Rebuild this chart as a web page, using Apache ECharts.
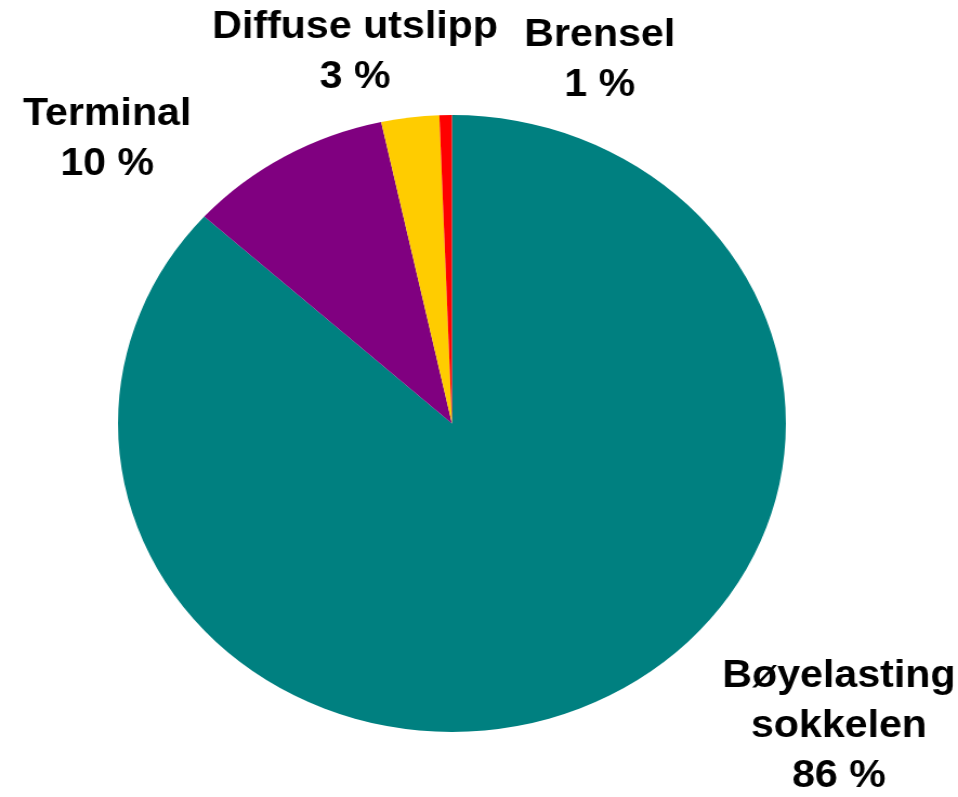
<!DOCTYPE html>
<html>
<head>
<meta charset="utf-8">
<script src="https://cdn.jsdelivr.net/npm/echarts@6/dist/echarts.min.js"></script>
<style>
  html, body { margin: 0; padding: 0; background: #fff; overflow: hidden; }
  #wrap { width: 958px; height: 797px; overflow: hidden; }
  /* reference is stretched sideways, so the whole chart is scaled on x */
  #main { width: 885px; height: 797px; transform: scaleX(1.0825); transform-origin: 0 0; }
</style>
</head>
<body>
<div id="wrap"><div id="main"></div></div>
<script>
// kildene, i rekkefolge med klokka fra toppen
const categories = ['Bøyelasting\nsokkelen', 'Terminal', 'Diffuse utslipp', 'Brensel']
const values = [86.7, 9.9, 2.8, 0.6]
const labelPct = [86, 10, 3, 1]
const colors = ['#008080', '#800080', '#FFCC00', '#FF0000']

// label spots (chart coords, before the x stretch)
const labelPos = [[775, 727], [99, 140], [328, 53], [554, 61]]

const myChart = echarts.init(document.getElementById('main'))
const option = {
  backgroundColor: '#fff',
  animation: false,
  series: [{
    type: 'pie',
    center: [417.5, 423.5],
    radius: 308.5,
    startAngle: 90,
    clockwise: true,
    avoidLabelOverlap: false,
    data: categories.map((name, i) => ({
      name: name,
      value: values[i],
      itemStyle: { color: colors[i] }
    })),
    itemStyle: { borderWidth: 0 },
    label: {
      show: true,
      position: 'outside',
      formatter: (p) => p.name + '\n' + labelPct[p.dataIndex] + ' %',
      fontFamily: 'Liberation Sans, Arial, sans-serif',
      fontWeight: 'bold',
      fontSize: 38,
      lineHeight: 50,
      color: '#000',
      align: 'center'
    },
    labelLine: { show: false },
    labelLayout: (params) => ({
      x: labelPos[params.dataIndex][0],
      y: labelPos[params.dataIndex][1],
      align: 'center',
      verticalAlign: 'middle'
    }),
    emphasis: { disabled: true }
  }]
}
myChart.setOption(option)
</script>
</body>
</html>
